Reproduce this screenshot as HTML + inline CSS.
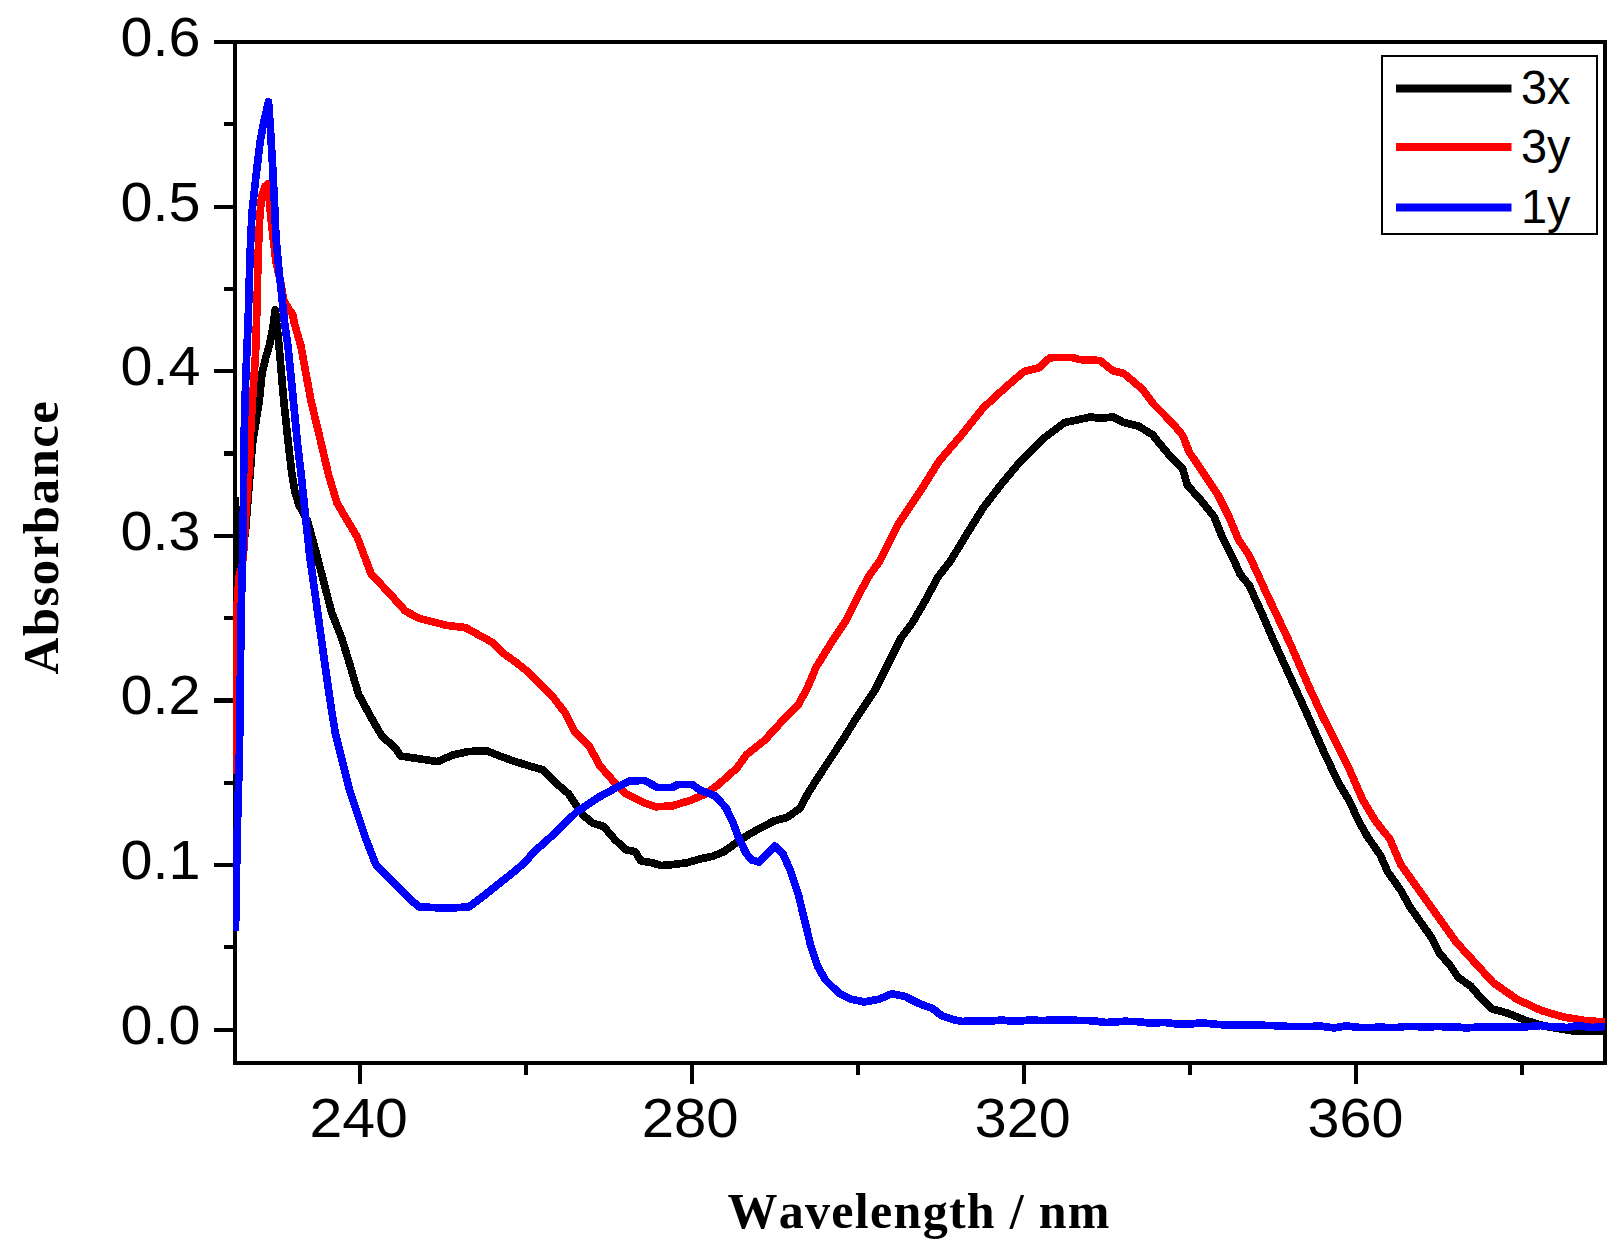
<!DOCTYPE html>
<html lang="en"><head><meta charset="utf-8"><title>UV-Vis absorbance spectra</title>
<style>
html,body{margin:0;padding:0;background:#fff;}
body{width:1623px;height:1254px;overflow:hidden;}
svg{display:block;}
.tick{font-family:"Liberation Sans",Arial,sans-serif;font-size:55px;fill:#000;}
.leg{font-family:"Liberation Sans",Arial,sans-serif;font-size:48px;fill:#000;}
.ttl{font-family:"Liberation Serif","Times New Roman",serif;font-weight:bold;font-size:49px;fill:#000;font-kerning:none;}
.curve{fill:none;stroke-width:7.7;stroke-linejoin:round;stroke-linecap:butt;}
</style></head><body>
<svg width="1623" height="1254" viewBox="0 0 1623 1254">
<rect x="0" y="0" width="1623" height="1254" fill="#ffffff"/>
<defs><clipPath id="plot"><rect x="233" y="40" width="1372.2" height="1025"/></clipPath></defs>

<g stroke="#000" stroke-width="4.2" fill="none" shape-rendering="crispEdges">
<rect x="235.4" y="42.0" width="1369.8" height="1021.0"/>
<line x1="214" y1="1029.6" x2="235.4" y2="1029.6"/>
<line x1="214" y1="865.0" x2="235.4" y2="865.0"/>
<line x1="214" y1="700.4" x2="235.4" y2="700.4"/>
<line x1="214" y1="535.8" x2="235.4" y2="535.8"/>
<line x1="214" y1="371.2" x2="235.4" y2="371.2"/>
<line x1="214" y1="206.6" x2="235.4" y2="206.6"/>
<line x1="214" y1="42.0" x2="235.4" y2="42.0"/>
<line x1="224" y1="947.3" x2="235.4" y2="947.3"/>
<line x1="224" y1="782.7" x2="235.4" y2="782.7"/>
<line x1="224" y1="618.1" x2="235.4" y2="618.1"/>
<line x1="224" y1="453.5" x2="235.4" y2="453.5"/>
<line x1="224" y1="288.9" x2="235.4" y2="288.9"/>
<line x1="224" y1="124.3" x2="235.4" y2="124.3"/>
<line x1="360.2" y1="1063.0" x2="360.2" y2="1084"/>
<line x1="692.2" y1="1063.0" x2="692.2" y2="1084"/>
<line x1="1024.2" y1="1063.0" x2="1024.2" y2="1084"/>
<line x1="1356.2" y1="1063.0" x2="1356.2" y2="1084"/>
<line x1="526.2" y1="1063.0" x2="526.2" y2="1074.5"/>
<line x1="858.2" y1="1063.0" x2="858.2" y2="1074.5"/>
<line x1="1190.2" y1="1063.0" x2="1190.2" y2="1074.5"/>
<line x1="1522.2" y1="1063.0" x2="1522.2" y2="1074.5"/>
</g>
<g clip-path="url(#plot)" shape-rendering="crispEdges">
<polyline class="curve" stroke="#000000" points="235.5,497.0 237.5,608.0 241.5,552.0 245.3,533.0 248.5,493.4 252.5,443.5 259.2,401.0 262.0,373.0 266.0,356.6 269.4,345.5 272.5,330.0 275.3,310.0 279.0,345.5 283.8,401.0 288.3,443.5 292.0,475.0 295.3,493.4 299.0,505.0 307.5,521.0 316.9,555.5 331.5,612.0 341.9,638.7 350.4,666.5 358.5,694.2 372.5,720.0 382.2,736.6 395.2,747.7 400.7,756.0 419.2,758.8 437.7,761.6 452.5,755.1 469.1,751.4 487.6,751.1 502.4,757.0 515.0,761.5 529.8,766.1 542.7,769.8 555.7,782.8 568.6,793.9 576.0,805.0 583.4,815.5 592.7,823.0 603.8,826.6 614.9,839.6 626.0,849.8 635.2,851.6 640.8,860.9 651.9,862.7 661.1,865.5 672.2,864.6 687.0,862.7 699.9,859.0 712.9,856.2 724.0,851.6 736.9,842.4 748.0,835.0 761.0,827.6 773.9,821.1 786.9,817.4 799.8,808.5 808.7,792.0 823.5,769.0 842.0,741.2 856.8,717.2 875.3,689.5 886.4,667.3 901.2,637.7 912.3,622.9 925.2,600.7 938.2,576.6 950.5,561.0 964.9,537.1 983.4,507.5 1001.9,483.5 1020.4,461.3 1042.5,439.1 1064.7,422.5 1074.0,420.6 1090.6,416.9 1099.9,418.4 1112.8,416.9 1123.9,422.5 1138.7,426.2 1153.5,435.4 1155.0,438.0 1169.8,455.8 1182.7,468.8 1187.4,485.4 1199.4,498.4 1214.2,516.9 1221.6,535.4 1232.7,557.5 1240.1,574.2 1249.3,585.3 1254.9,598.2 1261.3,612.0 1272.0,637.0 1290.5,677.7 1309.0,718.4 1323.8,751.7 1338.6,783.1 1349.7,801.6 1358.1,820.0 1367.4,836.6 1380.3,855.1 1387.7,871.8 1400.7,890.3 1409.9,906.9 1422.9,925.4 1432.1,938.4 1439.5,953.2 1450.6,966.1 1458.0,977.2 1471.0,986.4 1482.0,999.4 1491.3,1008.6 1507.9,1013.3 1526.4,1020.7 1544.9,1026.2 1572.7,1030.8 1605.0,1030.8"/>
<polyline class="curve" stroke="#ff0000" points="235.5,774.0 237.0,606.0 239.0,577.0 242.3,565.0 244.2,545.0 245.2,522.0 247.5,492.0 249.5,465.0 250.0,443.5 252.5,400.0 255.5,354.7 256.5,322.0 257.4,290.0 257.9,260.0 259.8,215.8 261.6,197.0 265.3,186.0 267.9,184.0 271.0,219.0 276.0,262.0 281.0,284.0 283.5,300.0 289.0,309.5 292.5,314.0 294.3,323.0 300.8,345.5 311.0,401.0 321.2,443.5 328.6,475.0 336.9,502.7 346.1,518.5 357.2,537.0 371.1,574.0 388.7,592.5 405.3,611.0 419.2,618.4 446.9,625.4 465.4,627.6 483.9,637.8 493.2,642.8 502.4,652.6 515.0,661.6 525.0,669.5 533.5,677.3 552.0,695.8 564.9,712.5 574.2,731.0 589.0,745.8 600.1,766.1 614.9,782.8 626.0,793.9 644.5,803.1 655.6,806.8 672.2,805.9 690.7,800.3 705.5,793.9 718.4,784.6 736.9,768.0 746.2,755.0 764.7,740.2 783.2,719.9 798.0,705.1 807.2,688.4 816.1,667.3 830.9,643.2 845.7,621.0 858.6,595.1 869.7,574.8 879.8,561.0 898.3,524.2 920.5,490.9 939.0,461.3 961.2,435.4 983.4,407.7 1005.6,387.3 1024.0,371.6 1038.8,367.9 1049.9,357.7 1072.1,357.4 1079.5,359.6 1099.9,360.5 1112.8,370.7 1123.9,373.5 1142.4,389.2 1153.5,404.0 1165.0,415.5 1173.5,424.4 1182.7,435.5 1189.2,452.1 1203.1,472.5 1217.9,494.7 1229.0,516.9 1238.2,539.1 1249.3,555.7 1258.6,576.0 1267.8,596.4 1272.0,605.0 1290.5,644.4 1309.0,686.9 1321.9,714.7 1334.9,740.6 1349.7,770.2 1362.6,799.7 1374.8,820.0 1384.0,832.0 1389.6,838.5 1400.7,864.4 1419.2,890.3 1437.7,916.2 1456.2,942.1 1474.7,962.4 1493.2,982.7 1517.2,999.4 1541.2,1010.5 1563.4,1017.0 1585.6,1020.7 1605.0,1022.0"/>
<polyline class="curve" stroke="#0000ff" points="235.5,931.0 236.0,900.0 237.3,830.0 239.5,750.0 241.1,613.0 243.2,533.0 243.9,443.5 245.7,378.8 248.1,322.0 250.0,256.5 252.0,212.0 255.9,177.0 260.1,141.8 264.0,121.0 267.0,108.5 268.5,102.0 270.3,127.0 272.5,164.0 274.4,201.0 276.0,238.0 279.4,275.0 281.2,290.0 284.4,322.0 287.9,345.5 293.4,401.0 297.5,443.5 301.2,475.0 305.9,520.0 309.7,555.5 317.6,612.0 325.2,666.5 331.5,710.0 335.5,734.0 341.5,758.0 349.5,790.0 364.8,836.0 375.7,864.3 391.5,880.9 410.0,899.4 419.2,906.8 447.0,908.3 469.1,906.8 483.9,895.7 502.4,880.9 515.0,871.0 525.0,862.2 533.5,852.3 555.7,832.5 576.0,812.5 598.2,797.5 618.6,786.4 629.7,780.9 644.5,780.5 657.4,787.4 672.2,787.4 677.8,784.6 692.5,784.6 699.9,790.1 714.7,795.7 725.8,807.5 733.2,823.0 738.8,838.0 746.2,853.5 751.7,859.9 759.1,862.2 766.5,854.4 774.8,846.1 783.2,854.4 790.6,871.0 798.0,893.2 805.0,922.0 810.5,944.7 817.9,966.9 825.3,979.8 838.3,992.7 851.2,999.2 864.2,1002.0 879.0,999.2 891.9,993.7 904.9,996.4 919.7,1003.8 932.6,1008.5 941.9,1015.9 953.0,1019.6 962.0,1021.5 971.5,1021.0 980.0,1021.1 992.0,1021.0 1001.0,1020.0 1010.0,1020.9 1019.0,1021.3 1031.0,1019.7 1040.0,1020.6 1058.0,1019.9 1070.0,1020.2 1088.0,1020.6 1097.0,1021.3 1106.0,1022.5 1124.0,1021.3 1136.0,1021.5 1148.0,1022.8 1166.0,1022.6 1175.0,1023.7 1190.0,1024.0 1202.0,1022.8 1214.0,1024.1 1223.0,1024.8 1232.0,1025.0 1241.0,1025.3 1253.0,1025.1 1271.0,1025.5 1289.0,1026.5 1307.0,1026.4 1322.0,1026.3 1334.0,1027.9 1346.0,1026.0 1361.0,1027.6 1379.0,1027.3 1397.0,1027.5 1406.0,1026.4 1424.0,1026.8 1439.0,1026.6 1457.0,1027.0 1466.0,1027.9 1475.0,1027.3 1490.0,1026.7 1505.0,1027.1 1523.0,1027.1 1541.0,1025.6 1550.0,1026.6 1568.0,1027.5 1577.0,1025.5 1592.0,1027.5 1605.0,1026.5"/>
</g>
<text class="tick" x="200.5" y="1043.6" text-anchor="end" textLength="80" lengthAdjust="spacingAndGlyphs">0.0</text>
<text class="tick" x="200.5" y="879.0" text-anchor="end" textLength="80" lengthAdjust="spacingAndGlyphs">0.1</text>
<text class="tick" x="200.5" y="714.4" text-anchor="end" textLength="80" lengthAdjust="spacingAndGlyphs">0.2</text>
<text class="tick" x="200.5" y="549.8" text-anchor="end" textLength="80" lengthAdjust="spacingAndGlyphs">0.3</text>
<text class="tick" x="200.5" y="385.2" text-anchor="end" textLength="80" lengthAdjust="spacingAndGlyphs">0.4</text>
<text class="tick" x="200.5" y="220.6" text-anchor="end" textLength="80" lengthAdjust="spacingAndGlyphs">0.5</text>
<text class="tick" x="200.5" y="56.0" text-anchor="end" textLength="80" lengthAdjust="spacingAndGlyphs">0.6</text>
<text class="tick" x="358.7" y="1137.2" text-anchor="middle" textLength="98.5" lengthAdjust="spacingAndGlyphs">240</text>
<text class="tick" x="690.2" y="1137.2" text-anchor="middle" textLength="97" lengthAdjust="spacingAndGlyphs">280</text>
<text class="tick" x="1022.7" y="1137.2" text-anchor="middle" textLength="95.7" lengthAdjust="spacingAndGlyphs">320</text>
<text class="tick" x="1355.5" y="1137.2" text-anchor="middle" textLength="95.8" lengthAdjust="spacingAndGlyphs">360</text>
<text class="ttl" x="727.5" y="1228" textLength="382" lengthAdjust="spacing" style="font-size:50px">Wavelength / nm</text>
<text class="ttl" transform="translate(58.3,674.5) rotate(-90)" x="0" y="0" textLength="273.5" lengthAdjust="spacing" style="font-size:51px">Absorbance</text>
<rect x="1382" y="56" width="214.5" height="178" fill="#fff" stroke="#000" stroke-width="2" shape-rendering="crispEdges"/>
<line x1="1396" y1="88.6" x2="1511.5" y2="88.6" stroke="#000000" stroke-width="8"/>
<text class="leg" x="1521" y="104.1" textLength="49.5" lengthAdjust="spacingAndGlyphs">3x</text>
<line x1="1396" y1="147" x2="1511.5" y2="147" stroke="#ff0000" stroke-width="8"/>
<text class="leg" x="1521" y="162.5" textLength="49.5" lengthAdjust="spacingAndGlyphs">3y</text>
<line x1="1396" y1="207.4" x2="1511.5" y2="207.4" stroke="#0000ff" stroke-width="8"/>
<text class="leg" x="1521" y="222.9" textLength="49.5" lengthAdjust="spacingAndGlyphs">1y</text>
</svg></body></html>
